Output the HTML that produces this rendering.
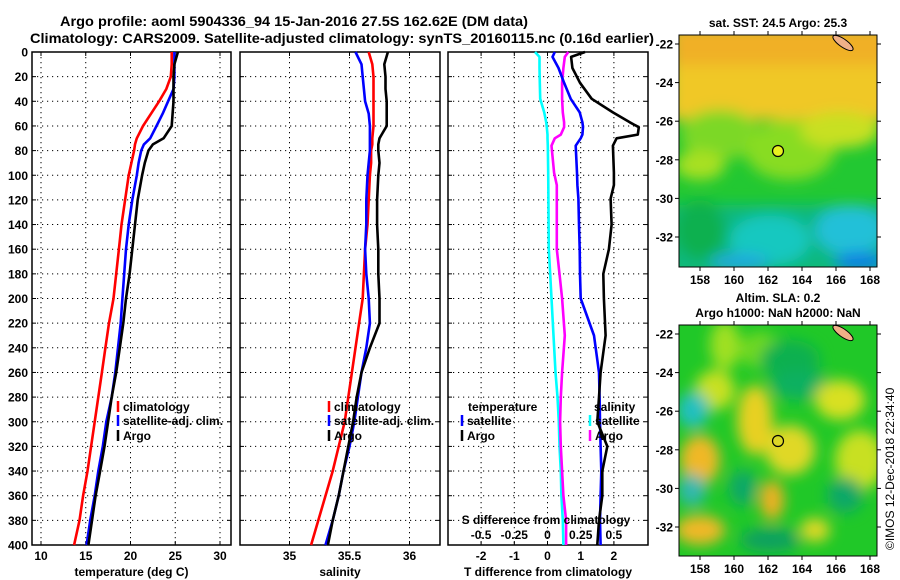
<!DOCTYPE html>
<html><head><meta charset="utf-8">
<style>
html,body{margin:0;padding:0;background:#fff;}
svg{display:block;font-family:"Liberation Sans",Arial,sans-serif;font-weight:bold;}
</style></head>
<body>
<svg id="chart" width="900" height="580" viewBox="0 0 900 580" xmlns="http://www.w3.org/2000/svg">
<defs>
<filter id="blur" x="-20%" y="-20%" width="140%" height="140%"><feGaussianBlur stdDeviation="7"/></filter>
<clipPath id="clipTop"><rect x="679" y="35" width="198" height="232"/></clipPath>
<clipPath id="clipBot"><rect x="679" y="325" width="198" height="231"/></clipPath>
</defs>
<text x="294" y="26" font-size="14" text-anchor="middle" textLength="468" lengthAdjust="spacingAndGlyphs">Argo profile: aoml 5904336_94 15-Jan-2016 27.5S 162.62E (DM data)</text>
<text x="342" y="43" font-size="14" text-anchor="middle" textLength="624" lengthAdjust="spacingAndGlyphs">Climatology: CARS2009. Satellite-adjusted climatology: synTS_20160115.nc (0.16d earlier)</text>

<!-- Maps -->
<g>
<text x="778" y="27" font-size="12" text-anchor="middle">sat. SST: 24.5 Argo: 25.3</text>
<g clip-path="url(#clipTop)">
<rect x="679" y="35" width="198" height="232" fill="#22c832"/>
<g filter="url(#blur)">
<rect x="670" y="25" width="220" height="95" fill="#f0c828"/>
<rect x="670" y="25" width="220" height="40" fill="#f0b028"/>
<ellipse cx="720" cy="135" rx="40" ry="25" fill="#7cd828"/>
<ellipse cx="790" cy="150" rx="45" ry="30" fill="#88dc20"/>
<ellipse cx="840" cy="130" rx="40" ry="18" fill="#c8e020"/>
<ellipse cx="700" cy="165" rx="25" ry="15" fill="#a8e020"/>
<rect x="670" y="205" width="220" height="70" fill="#10b880"/>
<ellipse cx="770" cy="240" rx="40" ry="25" fill="#18c8c0"/>
<ellipse cx="850" cy="230" rx="35" ry="25" fill="#20c0d8"/>
<ellipse cx="860" cy="262" rx="25" ry="10" fill="#1080e0"/>
<ellipse cx="740" cy="262" rx="30" ry="8" fill="#20a8e0"/>
<ellipse cx="700" cy="230" rx="25" ry="30" fill="#10b050"/>
</g>
<ellipse cx="843" cy="43" rx="12" ry="4" transform="rotate(35 843 43)" fill="#f0b088" stroke="#000" stroke-width="1"/>
</g>
<rect x="679" y="35" width="198" height="232" fill="none" stroke="#000" stroke-width="1"/>
<circle cx="778" cy="151" r="5.5" fill="#e8f020" stroke="#000" stroke-width="1.2"/>
<g id="sstTicks"></g>
</g>

<g>
<text x="778" y="302" font-size="12" text-anchor="middle">Altim. SLA: 0.2</text>
<text x="778" y="317" font-size="12" text-anchor="middle">Argo h1000: NaN h2000: NaN</text>
<g clip-path="url(#clipBot)">
<rect x="679" y="325" width="198" height="231" fill="#20c828"/>
<g filter="url(#blur)">
<ellipse cx="725" cy="345" rx="15" ry="25" fill="#a0e020"/>
<ellipse cx="760" cy="350" rx="20" ry="18" fill="#70d820"/>
<ellipse cx="790" cy="360" rx="30" ry="20" fill="#10b050"/>
<ellipse cx="800" cy="385" rx="30" ry="15" fill="#10b060"/>
<ellipse cx="715" cy="390" rx="20" ry="20" fill="#c8e020"/>
<ellipse cx="693" cy="410" rx="16" ry="18" fill="#20c0c0"/>
<ellipse cx="755" cy="420" rx="18" ry="35" fill="#e8d020"/>
<ellipse cx="790" cy="450" rx="25" ry="25" fill="#e0d828"/>
<ellipse cx="840" cy="400" rx="25" ry="20" fill="#d8e020"/>
<ellipse cx="860" cy="460" rx="25" ry="30" fill="#c8e020"/>
<ellipse cx="700" cy="460" rx="20" ry="25" fill="#f0b828"/>
<ellipse cx="692" cy="490" rx="14" ry="16" fill="#30b8b0"/>
<ellipse cx="743" cy="488" rx="14" ry="18" fill="#10a868"/>
<ellipse cx="772" cy="500" rx="12" ry="20" fill="#f0b020"/>
<ellipse cx="845" cy="495" rx="18" ry="18" fill="#10a868"/>
<ellipse cx="700" cy="530" rx="25" ry="15" fill="#f0b828"/>
<ellipse cx="770" cy="540" rx="30" ry="12" fill="#10a060"/>
<ellipse cx="815" cy="530" rx="15" ry="12" fill="#e0d828"/>
</g>
<ellipse cx="843" cy="333" rx="12" ry="4" transform="rotate(35 843 333)" fill="#f0b088" stroke="#000" stroke-width="1"/>
</g>
<rect x="679" y="325" width="198" height="231" fill="none" stroke="#000" stroke-width="1"/>
<circle cx="778" cy="441" r="5.5" fill="none" stroke="#000" stroke-width="1.2"/>
<g id="slaTicks"></g>
</g>
<text transform="translate(894 550) rotate(-90)" font-size="12" font-weight="normal">©IMOS 12-Dec-2018 22:34:40</text>

<g id="panels"></g>
</svg>
<script>
// Profile data (depth in dbar)
const depthProf = [0,10,20,30,40,50,60,70,75,80,90,100,120,140,160,180,200,220,240,260,280,300,320,340,360,380,400];
const tempArgo = [25.3,24.9,24.8,24.8,24.8,24.7,24.6,23.7,22.5,22.0,21.6,21.3,20.8,20.5,20.2,19.9,19.5,19.2,18.8,18.4,17.9,17.5,17.1,16.6,16.1,15.7,15.3];
const tempSat  = [24.9,24.9,24.9,24.8,24.2,23.6,22.9,22.2,21.5,21.2,20.9,20.7,20.2,19.8,19.5,19.3,19.1,18.9,18.6,18.3,17.9,17.3,16.9,16.4,16.0,15.5,15.1];
const tempClim = [24.6,24.6,24.5,24.0,23.2,22.3,21.4,20.7,20.5,20.4,20.1,19.8,19.4,19.0,18.7,18.4,18.1,17.6,17.2,16.8,16.4,16.0,15.6,15.2,14.7,14.3,13.7];
const salArgo = [35.82,35.79,35.80,35.80,35.81,35.81,35.81,35.75,35.74,35.74,35.75,35.74,35.73,35.73,35.74,35.74,35.75,35.75,35.67,35.60,35.56,35.53,35.49,35.45,35.41,35.36,35.32];
const salSat  = [35.55,35.60,35.61,35.62,35.63,35.66,35.67,35.67,35.67,35.67,35.66,35.65,35.64,35.64,35.63,35.64,35.66,35.67,35.64,35.60,35.57,35.54,35.50,35.45,35.41,35.36,35.30];
const salClim = [35.66,35.69,35.70,35.70,35.70,35.70,35.70,35.69,35.69,35.68,35.68,35.67,35.66,35.65,35.63,35.62,35.61,35.58,35.55,35.52,35.49,35.46,35.41,35.36,35.30,35.24,35.18];
const depthDiff = [0,4,13,25,38,49,57,61,67,70,76,98,108,119,140,160,180,200,230,260,280,300,320,340,360,380,400];
const tdiffArgo = [1.13,0.71,0.75,0.98,1.33,1.97,2.48,2.75,2.72,2.08,1.97,2.0,2.0,1.9,1.93,1.85,1.68,1.7,1.75,1.6,1.55,1.5,1.8,1.65,1.65,1.55,1.5];
const tdiffSat  = [0.22,0.15,0.33,0.5,0.7,0.97,1.05,1.07,1.05,1.0,0.85,0.89,0.9,0.93,0.95,0.97,0.98,1.0,1.4,1.55,1.57,1.58,1.6,1.62,1.6,1.58,1.6];
const sdiffArgo = [0.157,0.13,0.12,0.11,0.11,0.115,0.125,0.125,0.1,0.055,0.03,0.05,0.07,0.07,0.07,0.07,0.09,0.11,0.13,0.11,0.1,0.095,0.1,0.11,0.12,0.14,0.14];
const sdiffSat  = [-0.094,-0.06,-0.06,-0.058,-0.055,-0.025,-0.01,-0.005,0,0,0.002,0.005,0.006,0.007,0.008,0.01,0.02,0.03,0.045,0.06,0.075,0.085,0.09,0.1,0.105,0.115,0.12];
const depthTicks = [0,20,40,60,80,100,120,140,160,180,200,220,240,260,280,300,320,340,360,380,400];
const tempTicks = [10,15,20,25,30];
const salTicks = [35,35.5,36];
const salTickLabels = ["35","35.5","36"];
const tdiffTicks = [-2,-1,0,1,2];
const sdiffTicks = [-0.5,-0.25,0,0.25,0.5];
const sdiffTickLabels = ["-0.5","-0.25","0","0.25","0.5"];
const lonTicks = [158,160,162,164,166,168];
const latTicks = [-22,-24,-26,-28,-30,-32];

const NS = "http://www.w3.org/2000/svg";
const root = document.getElementById('panels');
function mk(tag, attrs, parent){ const e=document.createElementNS(NS,tag); for(const k in attrs) e.setAttribute(k,attrs[k]); (parent||root).appendChild(e); return e; }
const Y0=52, Y1=545;
const yDepth = d => Y0 + d*(Y1-Y0)/400;

function panel(name, x0, x1, xScale, ticks, labels, title){
  const g = mk('g',{});
  
  
  ticks.forEach((t,i)=>{
    const x = xScale(t);
    mk('line',{x1:x,x2:x,y1:Y0,y2:Y1,stroke:'#000','stroke-width':1,'stroke-dasharray':'1.2 3.8'},g);
    mk('line',{x1:x,x2:x,y1:Y1,y2:Y1-4,stroke:'#000'},g);
    mk('line',{x1:x,x2:x,y1:Y0,y2:Y0+4,stroke:'#000'},g);
    const tx = mk('text',{x:x,y:560,'font-size':12,'text-anchor':'middle'},g);
    tx.textContent = labels[i];
    
    
  });
  depthTicks.forEach(d=>{
    const y = yDepth(d);
    mk('line',{x1:x0,x2:x1,y1:y,y2:y,stroke:'#000','stroke-width':1,'stroke-dasharray':'1.2 3.8'},g);
    mk('line',{x1:x0,x2:x0+4,y1:y,y2:y,stroke:'#000'},g);
    mk('line',{x1:x1,x2:x1-4,y1:y,y2:y,stroke:'#000'},g);
  });
  mk('rect',{x:x0,y:Y0,width:x1-x0,height:Y1-Y0,fill:'none',stroke:'#000','stroke-width':1.5},g);
  const tt = mk('text',{x:(x0+x1)/2,y:576,'font-size':12,'text-anchor':'middle'},g);
  tt.textContent = title;
  
  
  return g;
}
function line(g, name, depths, vals, xScale, color){
  const pts = depths.map((d,i)=> xScale(vals[i]).toFixed(1)+','+yDepth(d).toFixed(1)).join(' ');
  const p = mk('polyline',{points:pts,fill:'none',stroke:color,'stroke-width':2.6,'stroke-linejoin':'round'},g);
  
  
}
function legend(g, x, y, color, label){
  if(color) mk('line',{x1:x,x2:x,y1:y-10,y2:y+1,stroke:color,'stroke-width':2.5},g);
  const t = mk('text',{x:x+5,y:y,'font-size':12},g);
  t.textContent = label;
  
  
}

// Panel 1: temperature
const xT = v => 41 + (v-10)*8.95;
const p1 = panel('temperature-panel', 32, 231, xT, tempTicks, tempTicks.map(String), 'temperature (deg C)');
depthTicks.forEach(d=>{
  const t = mk('text',{x:28,y:yDepth(d)+4.5,'font-size':12,'text-anchor':'end'},p1);
  t.textContent = d;
  
  
});
line(p1,'temp-climatology-line',depthProf,tempClim,xT,'#ff0000');
line(p1,'temp-satellite-line',depthProf,tempSat,xT,'#0000ff');
line(p1,'temp-argo-line',depthProf,tempArgo,xT,'#000');
legend(p1,118,411,'#ff0000','climatology');
legend(p1,118,425,'#0000ff','satellite-adj. clim.');
legend(p1,118,440,'#000','Argo');

// Panel 2: salinity
const xS = v => 289.5 + (v-35)*120;
const p2 = panel('salinity-panel', 240, 440, xS, salTicks, salTickLabels, 'salinity');
line(p2,'sal-climatology-line',depthProf,salClim,xS,'#ff0000');
line(p2,'sal-satellite-line',depthProf,salSat,xS,'#0000ff');
line(p2,'sal-argo-line',depthProf,salArgo,xS,'#000');
legend(p2,329,411,'#ff0000','climatology');
legend(p2,329,425,'#0000ff','satellite-adj. clim.');
legend(p2,329,440,'#000','Argo');

// Panel 3: differences
const xD = v => 547.5 + v*33.2;
const xSD = v => 547.5 + v*4*33.2;
const p3 = panel('difference-panel', 448, 648, xD, tdiffTicks, tdiffTicks.map(String), 'T difference from climatology');
line(p3,'sdiff-satellite-line',depthDiff,sdiffSat,xSD,'#00ffff');
line(p3,'sdiff-argo-line',depthDiff,sdiffArgo,xSD,'#ff00ff');
line(p3,'tdiff-satellite-line',depthDiff,tdiffSat,xD,'#0000ff');
line(p3,'tdiff-argo-line',depthDiff,tdiffArgo,xD,'#000');
legend(p3,463,411,null,'temperature');
legend(p3,462,425,'#0000ff','satellite');
legend(p3,462,440,'#000','Argo');
legend(p3,589,411,null,'salinity');
legend(p3,590,425,'#00ffff','satellite');
legend(p3,590,440,'#ff00ff','Argo');
const sdt = mk('text',{x:546,y:524,'font-size':12,'text-anchor':'middle'},p3);
sdt.textContent = 'S difference from climatology';


sdiffTicks.forEach((v,i)=>{
  const t = mk('text',{x:xSD(v),y:539,'font-size':12,'text-anchor':'middle'},p3);
  t.textContent = sdiffTickLabels[i];
  
  
});

// Map ticks
function mapTicks(id, top, bottom, latY22){
  const g = document.getElementById(id);
  const xLon = v => 700 + (v-158)*17;
  const yLat = v => latY22 + (-22 - v)*19.3;
  lonTicks.forEach(v=>{
    const x = xLon(v);
    mk('line',{x1:x,x2:x,y1:top,y2:top-4,stroke:'#000'},g);
    mk('line',{x1:x,x2:x,y1:bottom,y2:bottom+4,stroke:'#000'},g);
    const t = mk('text',{x:x,y:bottom+17,'font-size':12,'text-anchor':'middle'},g);
    t.textContent = v;
    
    
  });
  latTicks.forEach(v=>{
    const y = yLat(v);
    mk('line',{x1:679,x2:675,y1:y,y2:y,stroke:'#000'},g);
    mk('line',{x1:877,x2:881,y1:y,y2:y,stroke:'#000'},g);
    const t = mk('text',{x:673,y:y+4.5,'font-size':12,'text-anchor':'end'},g);
    t.textContent = v;
    
    
  });
}
mapTicks('sstTicks', 35, 267, 44);
mapTicks('slaTicks', 325, 556, 334);
</script>
</body></html>
